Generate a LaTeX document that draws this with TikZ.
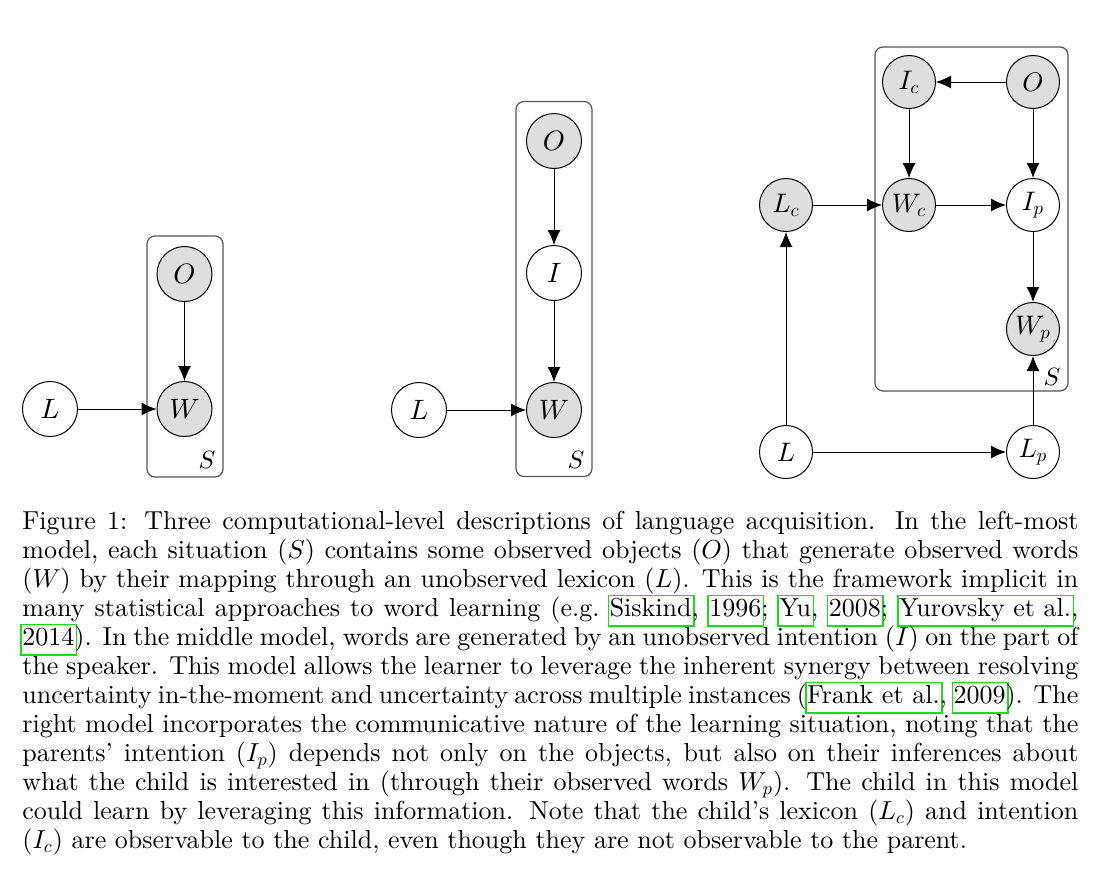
\documentclass[tikz,border=0pt]{standalone}
\usepackage{fontspec}
\newfontfamily\capfont{lmroman10-regular.otf}[Ligatures=TeX]
\usetikzlibrary{arrows.meta}
\DeclareFontFamily{OML}{cmm}{\skewchar\font127 }
\DeclareFontShape{OML}{cmm}{m}{it}{<-6>cmmi5 <6-8>cmmi7 <8->cmmi10}{}
\definecolor{obs}{RGB}{222,222,222}
\definecolor{lg}{RGB}{20,225,20}
\definecolor{plategray}{RGB}{85,85,85}
\newcommand\lk[1]{\leavevmode\sbox0{#1}\rlap{\kern-1pt\smash{\color{lg}\fboxsep=0pt\fboxrule=0.75pt\fbox{\rule[-4.2pt]{0pt}{14.4pt}\kern\dimexpr\wd0+1pt\relax}}}\usebox0}
\newcommand\capline[1]{\hbox to 528pt{#1}}
\begin{document}
\begin{tikzpicture}[x=0.5pt,y=-0.5pt,
  var/.style={circle, draw, line width=0.5pt, minimum size=27.5pt, inner sep=0pt, font=\fontsize{14}{16}\selectfont},
  obsv/.style={var, fill=obs},
  small/.style={minimum size=26.5pt, font=\fontsize{13.4}{15}\selectfont},
  edge/.style={-{Latex[length=7.5pt,width=6.5pt]}, line width=0.5pt},
  plate/.style={draw=plategray, rounded corners=4pt, line width=0.6pt},
  platelab/.style={inner sep=0pt, font=\fontsize{12.5}{14}\selectfont},
  caption/.style={inner sep=0pt, align=left, font=\capfont\fontsize{13}{14.5}\selectfont}]
\useasboundingbox (0,0) rectangle (1102,884);

% ---- left model
\draw[plate] (147,236) rectangle (223,477);
\node[platelab] (S1) at (207,460) {$S$};
\node[var] (L1) at (50,409) {$L$};
\node[obsv] (W1) at (184.5,409) {$W$};
\node[obsv] (O1) at (184.5,274) {$O$};
\draw[edge] (L1) -- (W1);
\draw[edge] (O1) -- (W1);

% ---- middle model
\draw[plate] (516,101.5) rectangle (592,476.5);
\node[platelab] (S2) at (576,460) {$S$};
\node[var] (L2) at (419,410) {$L$};
\node[obsv] (W2) at (554,410) {$W$};
\node[var] (I2) at (554,273) {$I$};
\node[obsv] (O2) at (554,141) {$O$};
\draw[edge] (L2) -- (W2);
\draw[edge] (O2) -- (I2);
\draw[edge] (I2) -- (W2);

% ---- right model
\draw[plate] (875,47) rectangle (1068,391);
\node[platelab] (S3) at (1052,377) {$S$};
\node[obsv,small] (Ic) at (909,82) {$I_c$};
\node[obsv,small] (O3) at (1033,82) {$O$};
\node[obsv,small] (Lc) at (786,205) {$L_c$};
\node[obsv,small] (Wc) at (909,205) {$W_c$};
\node[var,small] (Ip) at (1033,205) {$I_p$};
\node[obsv,small] (Wp) at (1033,329) {$W_p$};
\node[var,small] (L3) at (786,452) {$L$};
\node[var,small] (Lp) at (1033,452) {$L_p$};
\draw[edge] (O3) -- (Ic);
\draw[edge] (Ic) -- (Wc);
\draw[edge] (O3) -- (Ip);
\draw[edge] (Lc) -- (Wc);
\draw[edge] (Wc) -- (Ip);
\draw[edge] (Ip) -- (Wp);
\draw[edge] (L3) -- (Lc);
\draw[edge] (L3) -- (Lp);
\draw[edge] (Lp) -- (Wp);

% ---- caption
\node[caption, anchor=north west] (cap) at (22,511) {%
\capline{Figure 1: Three computational-level descriptions of language acquisition. In the left-most}\\
\capline{model, each situation ($S$) contains some observed objects ($O$) that generate observed words}\\
\capline{($W$) by their mapping through an unobserved lexicon ($L$). This is the framework implicit in}\\
\capline{many statistical approaches to word learning (e.g.\ \lk{Siskind}, \lk{1996}; \lk{Yu}, \lk{2008}; \lk{Yurovsky et al.},}\\
\capline{\lk{2014}). In the middle model, words are generated by an unobserved intention ($I$) on the part of}\\
\capline{the speaker. This model allows the learner to leverage the inherent synergy between resolving}\\
\capline{uncertainty in-the-moment and uncertainty across multiple instances (\lk{Frank et al.}, \lk{2009}). The}\\
\capline{right model incorporates the communicative nature of the learning situation, noting that the}\\
\capline{parents' intention ($I_p$) depends not only on the objects, but also on their inferences about}\\
\capline{what the child is interested in (through their observed words $W_p$). The child in this model}\\
\capline{could learn by leveraging this information. Note that the child's lexicon ($L_c$) and intention}\\
\hbox{($I_c$) are observable to the child, even though they are not observable to the parent.}};
\end{tikzpicture}
\end{document}
